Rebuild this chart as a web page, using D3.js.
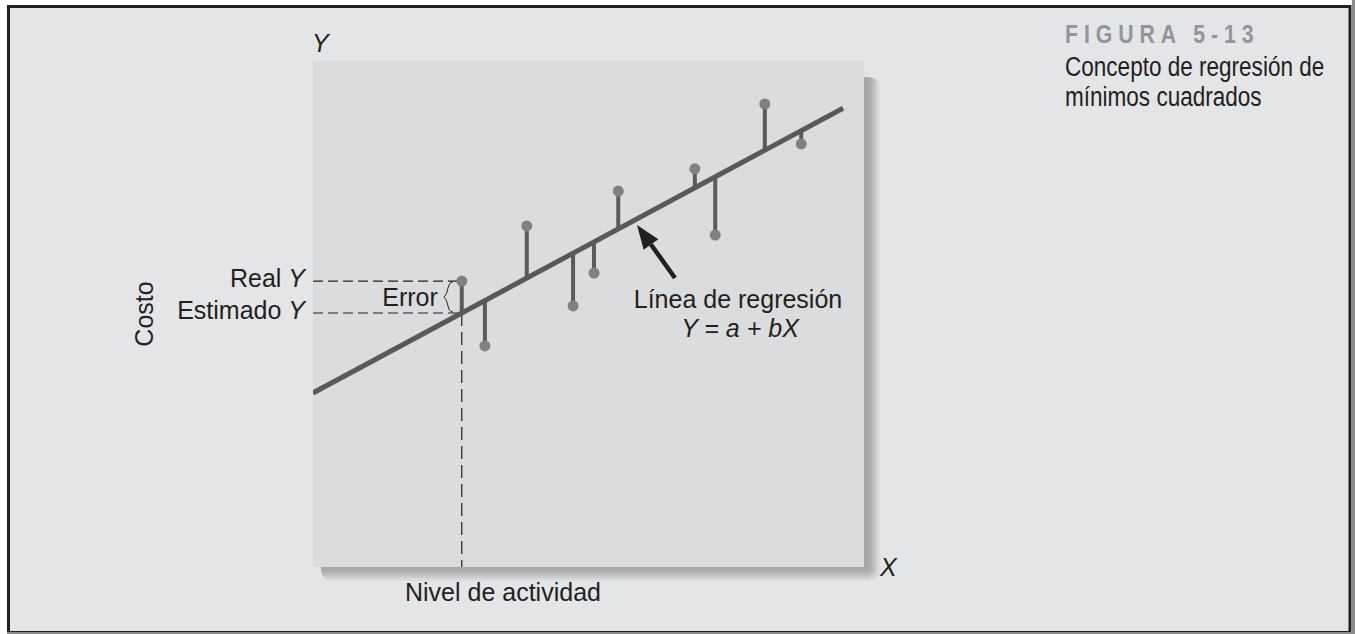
<!DOCTYPE html>
<html>
<head>
<meta charset="utf-8">
<script src="https://cdn.jsdelivr.net/npm/d3@7"></script>
<style>
  body { margin: 0; background: #ffffff; }
  text { font-family: "Liberation Sans", Arial, Helvetica, sans-serif; fill: #231f20; }
</style>
</head>
<body>
<div class="chart"></div>
<script>
// data (arbitrary units 0-100)
var actividad = [27.0, 31.2, 38.8, 47.2, 51.0, 55.4, 69.3, 73.0, 82.0, 88.6];
var costo = [56.5, 43.7, 67.4, 51.6, 58.1, 74.3, 78.7, 65.6, 91.5, 83.6];
var interseccion = 34.4;   // a
var pendiente = 0.585;     // b
var lineaX = [0, 96.2];
var puntoError = 0;        // index of the point used for the Real / Estimado example
var tituloFigura = "FIGURA 5-13";
var subtitulo = ["Concepto de regresión de", "mínimos cuadrados"];

var svgWidth = 1355;
var svgHeight = 634;

var panel = { left: 313, top: 61, right: 864, bottom: 567 };

var svg = d3.select(".chart")
  .append("svg")
  .attr("width", svgWidth)
  .attr("height", svgHeight);

var defs = svg.append("defs");
defs.append("filter").attr("id", "blur")
  .attr("x", "-10%").attr("y", "-10%").attr("width", "120%").attr("height", "120%")
  .append("feGaussianBlur").attr("stdDeviation", 5);
defs.append("clipPath").attr("id", "sombraClip")
  .append("rect")
  .attr("x", 321).attr("y", 77).attr("width", 561).attr("height", 506)
  .attr("rx", 14);
defs.append("clipPath").attr("id", "panelClip")
  .append("rect")
  .attr("x", panel.left).attr("y", panel.top)
  .attr("width", panel.right - panel.left).attr("height", panel.bottom - panel.top);

// outer frame
svg.append("rect")
  .attr("x", 1352).attr("y", 0).attr("width", 3).attr("height", svgHeight)
  .attr("fill", "#8a8a8a");
svg.append("rect")
  .attr("x", 8.5).attr("y", 6.5).attr("width", 1341.5).attr("height", 626)
  .attr("fill", "#e4e5e7")
  .attr("stroke", "#231f20")
  .attr("stroke-width", 3);
svg.append("rect")
  .attr("x", 7).attr("y", 632).attr("width", 1348).attr("height", 2)
  .attr("fill", "#8a8a8a");

// drop shadow behind the panel
var sombra = svg.append("g").attr("clip-path", "url(#sombraClip)");
sombra.append("rect")
  .attr("x", 321).attr("y", 77).attr("width", 561).attr("height", 506)
  .attr("fill", "#eeeff0");
sombra.append("rect")
  .attr("x", 313).attr("y", 61).attr("width", 563).attr("height", 516)
  .attr("fill", "#a6a7a9")
  .attr("filter", "url(#blur)");

// panel
svg.append("rect")
  .attr("x", panel.left).attr("y", panel.top)
  .attr("width", panel.right - panel.left).attr("height", panel.bottom - panel.top)
  .attr("fill", "#dbdcde");

var x = d3.scaleLinear().domain([0, 100]).range([panel.left, panel.right]);
var y = d3.scaleLinear().domain([0, 100]).range([panel.bottom, panel.top]);

function estimado(v) { return interseccion + pendiente * v; }

var chartGroup = svg.append("g").attr("clip-path", "url(#panelClip)");

// dashed guides for the example point
var ex = actividad[puntoError];
chartGroup.append("line")
  .attr("x1", panel.left).attr("x2", x(ex) - 4)
  .attr("y1", y(costo[puntoError])).attr("y2", y(costo[puntoError]))
  .attr("stroke", "#231f20").attr("stroke-width", 1.2).attr("stroke-dasharray", "10,5");
chartGroup.append("line")
  .attr("x1", panel.left).attr("x2", x(ex))
  .attr("y1", y(estimado(ex))).attr("y2", y(estimado(ex)))
  .attr("stroke", "#231f20").attr("stroke-width", 1.2).attr("stroke-dasharray", "10,5");
chartGroup.append("line")
  .attr("x1", x(ex)).attr("x2", x(ex))
  .attr("y1", y(estimado(ex))).attr("y2", panel.bottom)
  .attr("stroke", "#231f20").attr("stroke-width", 1.2).attr("stroke-dasharray", "13,6");

// residual stems
chartGroup.selectAll(".stem")
  .data(actividad)
  .enter()
  .append("line")
  .attr("class", "stem")
  .attr("x1", d => x(d))
  .attr("x2", d => x(d))
  .attr("y1", (d, i) => y(costo[i]))
  .attr("y2", d => y(estimado(d)))
  .attr("stroke", "#5a5b5d")
  .attr("stroke-width", 4);

// regression line
var linea = d3.line()
  .x(d => x(d))
  .y(d => y(estimado(d)));
chartGroup.append("path")
  .datum(lineaX)
  .attr("d", linea)
  .attr("fill", "none")
  .attr("stroke", "#58595b")
  .attr("stroke-width", 5);

// observed points
chartGroup.selectAll("circle")
  .data(actividad)
  .enter()
  .append("circle")
  .attr("cx", d => x(d))
  .attr("cy", (d, i) => y(costo[i]))
  .attr("r", 5.5)
  .attr("fill", "#808183");

// brace for the error
var by1 = y(costo[puntoError]) + 1, by2 = y(estimado(ex)) - 1, bx = x(ex) - 18;
var bm = (by1 + by2) / 2;
svg.append("path")
  .attr("d", `M${bx + 9},${by1} C${bx + 3},${by1} ${bx + 5},${bm - 3} ${bx},${bm}`
    + ` C${bx + 5},${bm + 3} ${bx + 3},${by2} ${bx + 9},${by2}`)
  .attr("fill", "none").attr("stroke", "#231f20").attr("stroke-width", 1);

svg.append("text")
  .attr("x", bx - 6).attr("y", bm + 9)
  .attr("text-anchor", "end")
  .style("font-size", "25px")
  .text("Error");

// left labels
var realLbl = svg.append("text")
  .attr("x", 305).attr("y", y(costo[puntoError]) + 6)
  .attr("text-anchor", "end")
  .style("font-size", "25px");
realLbl.append("tspan").text("Real ");
realLbl.append("tspan").style("font-style", "italic").text("Y");

var estLbl = svg.append("text")
  .attr("x", 305).attr("y", y(estimado(ex)) + 6)
  .attr("text-anchor", "end")
  .style("font-size", "25px");
estLbl.append("tspan").text("Estimado ");
estLbl.append("tspan").style("font-style", "italic").text("Y");

// arrow to the regression line
var tip = [637, 225], tail = [675, 278];
var ang = Math.atan2(tip[1] - tail[1], tip[0] - tail[0]);
var headLen = 24, headW = 9;
var base = [tip[0] - headLen * Math.cos(ang), tip[1] - headLen * Math.sin(ang)];
svg.append("line")
  .attr("x1", tail[0]).attr("y1", tail[1])
  .attr("x2", base[0]).attr("y2", base[1])
  .attr("stroke", "#231f20").attr("stroke-width", 4.5);
svg.append("path")
  .attr("d", `M${tip[0]},${tip[1]}`
    + ` L${base[0] + headW * Math.sin(ang)},${base[1] - headW * Math.cos(ang)}`
    + ` L${base[0] - headW * Math.sin(ang)},${base[1] + headW * Math.cos(ang)} Z`)
  .attr("fill", "#231f20");

svg.append("text")
  .attr("x", 738).attr("y", 308)
  .attr("text-anchor", "middle")
  .style("font-size", "25px")
  .text("Línea de regresión");

svg.append("text")
  .attr("x", 740).attr("y", 337)
  .attr("text-anchor", "middle")
  .style("font-size", "25px")
  .style("font-style", "italic")
  .text("Y = a + bX");

// axis names
svg.append("text")
  .attr("x", 312).attr("y", 52)
  .style("font-size", "25px")
  .style("font-style", "italic")
  .text("Y");

svg.append("text")
  .attr("x", 880).attr("y", 576)
  .style("font-size", "25px")
  .style("font-style", "italic")
  .text("X");

svg.append("text")
  .attr("transform", "translate(153, 314) rotate(-90)")
  .attr("text-anchor", "middle")
  .style("font-size", "25px")
  .text("Costo");

svg.append("text")
  .attr("x", 405).attr("y", 601)
  .style("font-size", "25px")
  .text("Nivel de actividad");

// figure caption
svg.append("text")
  .attr("transform", "translate(1065, 43) scale(0.85, 1)")
  .style("font-size", "25px")
  .style("font-weight", "bold")
  .style("letter-spacing", "7px")
  .style("fill", "#939598")
  .text(tituloFigura);

svg.selectAll(".subtitulo")
  .data(subtitulo)
  .enter()
  .append("text")
  .attr("class", "subtitulo")
  .attr("transform", (d, i) => `translate(1065, ${76 + i * 30}) scale(0.805, 1)`)
  .style("font-size", "28px")
  .text(d => d);
</script>
</body>
</html>
